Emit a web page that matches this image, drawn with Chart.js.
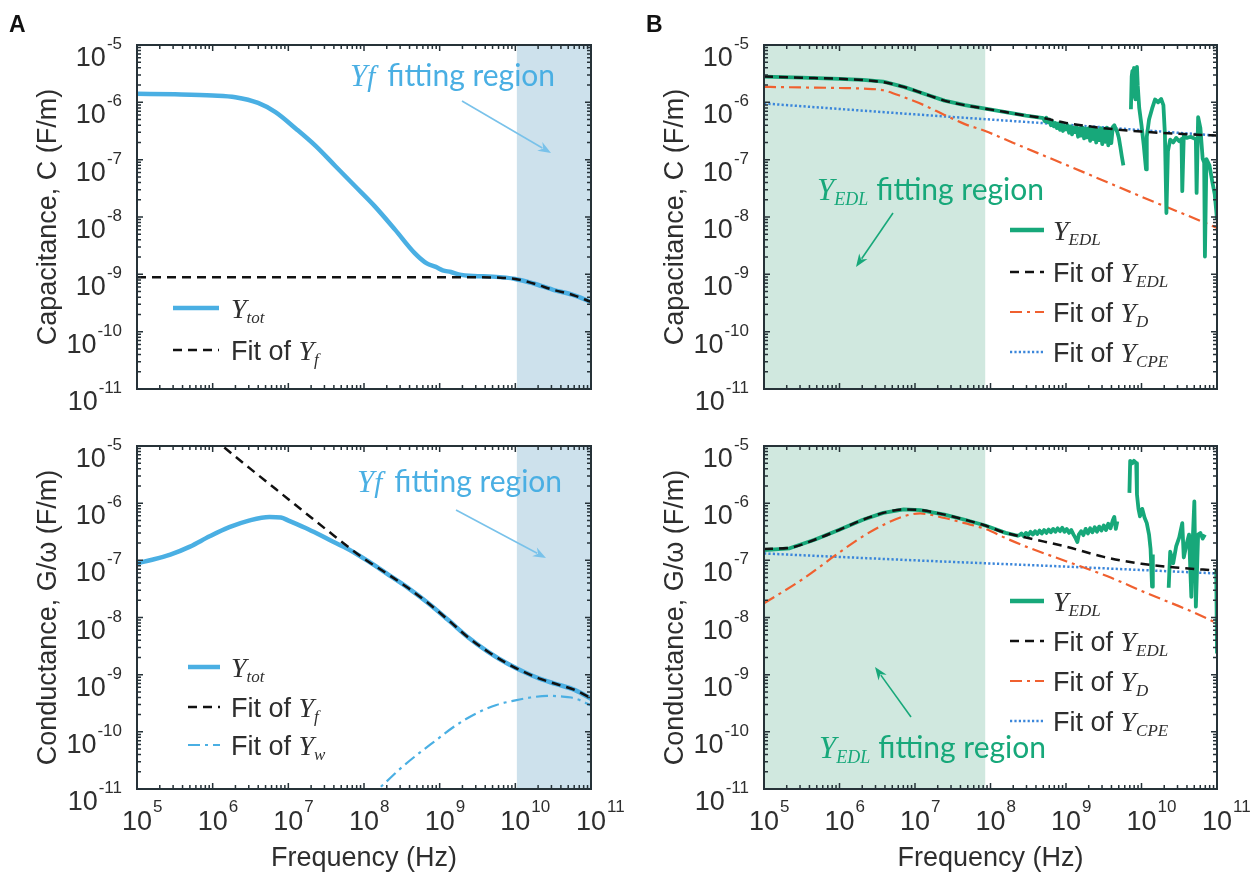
<!DOCTYPE html>
<html><head><meta charset="utf-8">
<script src="https://cdn.jsdelivr.net/npm/chart.js@4.4.1/dist/chart.umd.min.js"></script>
<style>
html,body{margin:0;padding:0;background:#fff;}
#wrap{position:relative;width:1256px;height:879px;overflow:hidden;background:#fff;}
canvas{position:absolute;left:0;top:0;}
</style></head><body>
<div id="wrap">
<canvas id="cA1" width="1256" height="879"></canvas>
<canvas id="cA2" width="1256" height="879"></canvas>
<canvas id="cB1" width="1256" height="879"></canvas>
<canvas id="cB2" width="1256" height="879"></canvas>
</div>
<script>
// ---------- tick exponents ----------
const xTickExponents = [5, 6, 7, 8, 9, 10, 11];
const yTickExponents = [-5, -6, -7, -8, -9, -10, -11];

// ---------- Panel A, capacitance (log10 f, log10 C) ----------
const aCapTotLogF = [5.0,5.5,6.0,6.3,6.6,6.83,7.1,7.36,7.62,7.88,8.14,8.41,8.67,8.83,8.95,9.04,9.15,9.25,9.45,9.7,10.0,10.24,10.5,10.76,11.0];
const aCapTotLogC = [-5.85,-5.86,-5.88,-5.91,-6.01,-6.17,-6.46,-6.76,-7.11,-7.46,-7.81,-8.22,-8.63,-8.81,-8.87,-8.93,-8.96,-9.0,-9.03,-9.04,-9.08,-9.16,-9.27,-9.36,-9.48];
const aCapFitLogF = [5.0,9.5,9.8,10.0,10.24,10.5,10.76,11.0];
const aCapFitLogC = [-9.05,-9.05,-9.06,-9.08,-9.16,-9.27,-9.36,-9.48];

// ---------- Panel A, conductance (log10 f, log10 G/w) ----------
const aCondTotLogF = [5.0,5.2,5.44,5.7,5.96,6.22,6.49,6.75,6.9,7.01,7.27,7.54,7.80,8.06,8.32,8.59,8.85,9.11,9.37,9.64,9.90,10.11,10.32,10.53,10.79,11.0];
const aCondTotLogG = [-7.05,-6.99,-6.90,-6.76,-6.58,-6.42,-6.30,-6.24,-6.25,-6.31,-6.46,-6.64,-6.81,-7.02,-7.25,-7.49,-7.75,-8.04,-8.34,-8.60,-8.81,-8.95,-9.07,-9.16,-9.27,-9.42];
const aCondFitLogF = [6.0,6.5,7.0,7.5,8.0,8.3,8.59,8.85,9.11,9.37,9.64,9.90,10.11,10.32,10.53,10.79,11.0];
const aCondFitLogG = [-4.86,-5.40,-5.93,-6.46,-6.97,-7.23,-7.49,-7.75,-8.04,-8.34,-8.60,-8.81,-8.95,-9.07,-9.16,-9.27,-9.41];
const aCondWLogF = [8.05,8.19,8.5,8.75,8.95,9.2,9.48,9.75,10.0,10.2,10.42,10.6,10.74,10.88,11.0];
const aCondWLogG = [-11.15,-11.0,-10.62,-10.35,-10.15,-9.9,-9.68,-9.53,-9.45,-9.40,-9.37,-9.38,-9.40,-9.46,-9.54];

// ---------- Panel B, capacitance ----------
const bCapEdlLogF = [5.0,5.5,6.0,6.31,6.58,6.85,7.12,7.39,7.66,7.93,8.2,8.47,8.68,
 8.70,8.72,8.74,8.76,8.78,8.80,8.82,8.84,8.86,8.88,8.90,8.92,8.94,8.96,8.98,
 9.00,9.02,9.04,9.06,9.08,9.10,9.12,9.14,9.16,9.18,9.20,9.22,9.24,9.26,9.28,
 9.30,9.32,9.34,9.36,9.38,9.40,9.42,9.44,9.46,9.48,9.50,9.52,9.54,9.56,9.58,
 9.60,9.62,9.64,9.66,9.68,9.70,9.72,9.74,9.76,
 9.80,
 9.86,9.87,9.88,9.89,9.90,9.91,9.92,9.94,9.95,9.97,10.0,10.03,10.06,10.07,10.10,10.14,10.18,10.22,10.26,10.29,
 10.31,10.33,10.35,10.38,10.42,10.46,10.50,10.53,10.54,10.56,10.60,10.65,10.70,10.72,10.73,10.75,10.78,10.81,10.83,10.84,
 10.86,10.90,10.94,10.97,11.0];
const bCapEdlLogC = [-5.55,-5.57,-5.59,-5.61,-5.64,-5.73,-5.85,-5.97,-6.05,-6.11,-6.17,-6.23,-6.27,
 -6.28,-6.33,-6.27,-6.35,-6.30,-6.40,-6.33,-6.42,-6.36,-6.45,-6.37,-6.48,-6.39,-6.50,-6.41,
 -6.47,-6.40,-6.53,-6.42,-6.56,-6.44,-6.52,-6.43,-6.60,-6.45,-6.58,-6.44,-6.63,-6.46,-6.61,
 -6.45,-6.67,-6.47,-6.64,-6.46,-6.70,-6.48,-6.66,-6.45,-6.73,-6.47,-6.69,-6.44,-6.75,-6.47,
 -6.71,-6.43,-6.40,-6.46,-6.52,-6.62,-6.78,-6.95,-7.10,
 null,
 -6.12,-5.55,-5.45,-5.90,-5.40,-5.60,-5.95,-5.38,-5.70,-6.10,-6.40,-6.75,-7.17,-6.60,-6.30,-6.11,-5.95,-6.00,-5.94,-6.05,
 -6.55,-7.93,-6.85,-6.65,-6.70,-6.62,-6.68,-6.64,-7.55,-6.58,-6.62,-6.60,-6.63,-6.64,-7.58,-6.26,-6.45,-6.98,-7.05,-8.69,
 -6.99,-7.10,-7.40,-7.60,-8.04];
const bCapFitLogF = [5.0,5.5,6.0,6.31,6.58,6.85,7.12,7.39,7.66,7.93,8.2,8.47,8.68,9.0,9.5,10.0,10.5,11.0];
const bCapFitLogC = [-5.55,-5.57,-5.59,-5.61,-5.65,-5.73,-5.85,-5.97,-6.05,-6.11,-6.17,-6.23,-6.27,-6.36,-6.45,-6.51,-6.55,-6.58];
const bCapDLogF = [5.0,5.5,6.0,6.31,6.58,6.85,7.12,7.39,7.66,7.93,8.2,8.47,9.0,9.54,10.08,10.62,11.0];
const bCapDLogC = [-5.73,-5.74,-5.75,-5.76,-5.79,-5.91,-6.05,-6.22,-6.38,-6.50,-6.65,-6.80,-7.09,-7.39,-7.69,-7.98,-8.19];
const bCapCpeLogF = [5.0,7.0,9.0,11.0];
const bCapCpeLogC = [-6.02,-6.21,-6.39,-6.58];

// ---------- Panel B, conductance ----------
const bCondEdlLogF = [5.0,5.34,5.67,5.99,6.31,6.58,6.85,7.07,7.39,7.66,7.93,8.2,8.36,
 8.38,8.41,8.44,8.47,8.50,8.53,8.56,8.59,8.62,8.65,8.68,8.71,8.74,8.77,8.80,8.83,8.86,8.89,8.92,8.95,8.98,
 9.01,9.04,9.07,9.10,9.13,9.15,9.17,9.20,9.23,9.26,9.29,9.32,9.35,9.38,9.41,9.44,9.47,9.50,9.53,9.56,9.59,
 9.62,9.64,9.66,9.68,
 9.75,
 9.84,9.85,9.88,9.90,9.93,9.94,9.96,9.98,10.01,10.04,10.07,10.10,10.12,10.14,10.15,
 10.25,
 10.36,10.38,10.42,10.46,10.50,10.54,10.56,10.60,10.63,10.66,10.68,10.70,10.72,10.75,10.78,10.81,10.84,
 10.92,
 10.99,11.0];
const bCondEdlLogG = [-6.82,-6.79,-6.64,-6.47,-6.29,-6.17,-6.11,-6.12,-6.20,-6.29,-6.39,-6.52,-6.57,
 -6.56,-6.53,-6.58,-6.52,-6.56,-6.50,-6.55,-6.49,-6.54,-6.48,-6.53,-6.47,-6.52,-6.46,-6.51,-6.45,-6.50,-6.44,-6.49,-6.43,-6.50,
 -6.45,-6.52,-6.47,-6.55,-6.62,-6.68,-6.55,-6.49,-6.56,-6.45,-6.53,-6.44,-6.51,-6.42,-6.50,-6.41,-6.48,-6.39,-6.47,-6.36,-6.44,
 -6.30,-6.24,-6.45,-6.32,
 null,
 -5.82,-5.26,-5.30,-5.26,-5.30,-5.85,-6.10,-6.23,-6.10,-6.25,-6.35,-6.55,-6.80,-7.46,-6.90,
 null,
 -7.48,-6.85,-7.05,-6.75,-6.60,-6.35,-6.95,-6.70,-6.55,-7.64,-6.60,-5.97,-7.81,-6.55,-6.52,-6.62,-6.55,
 null,
 -7.17,-8.63];
const bCondFitLogF = [5.0,5.34,5.67,5.99,6.31,6.58,6.85,7.07,7.39,7.66,7.93,8.2,8.36,8.6,9.0,9.5,10.0,10.5,11.0];
const bCondFitLogG = [-6.80,-6.78,-6.64,-6.47,-6.29,-6.17,-6.11,-6.12,-6.20,-6.29,-6.39,-6.52,-6.57,-6.64,-6.76,-6.94,-7.06,-7.13,-7.18];
const bCondDLogF = [5.0,5.5,5.99,6.31,6.58,6.85,7.07,7.39,7.66,7.93,8.2,8.47,9.01,9.55,10.08,10.62,11.0];
const bCondDLogG = [-7.75,-7.34,-6.87,-6.58,-6.38,-6.23,-6.18,-6.26,-6.35,-6.45,-6.61,-6.76,-7.02,-7.28,-7.58,-7.87,-8.10];
const bCondCpeLogF = [5.0,7.0,9.0,11.0];
const bCondCpeLogG = [-6.88,-7.00,-7.11,-7.23];

// ---------- styling ----------
const SANS = '"Liberation Sans", Arial, Helvetica, sans-serif';
const SERIF = '"Liberation Serif", "Times New Roman", serif';
const ANNO = 'Lato, "Open Sans", sans-serif';
const AXIS = '#263238';
const TXT = '#2e2e2e';
const C_BLUE = '#4aafe3';
const C_GREEN = '#17a87a';
const C_ORANGE = '#f0602f';
const C_CPE = '#3b86da';
const C_BLACK = '#111111';
const SHADE_A = '#cde1ec';
const SHADE_B = '#d0e8df';
const DASH = [9, 6];
const DASHDOT = [12, 5, 3, 5];
const DOT = [2.2, 2.2];

function toPoints(lf, lv) {
  return lf.map((f, i) => ({ x: Math.pow(10, f), y: lv[i] === null ? null : Math.pow(10, lv[i]) }));
}
function line(lf, lv, color, width, dash, smooth) {
  const d = { data: toPoints(lf, lv), borderColor: color, borderWidth: width, borderDash: dash || [],
    pointRadius: 0, fill: false, tension: 0, spanGaps: false, borderJoinStyle: 'round', borderCapStyle: 'butt' };
  if (smooth) d.cubicInterpolationMode = 'monotone';
  return d;
}

function drawRich(ctx, parts, x, y) {
  for (const p of parts) {
    ctx.font = p.font; ctx.fillStyle = p.color;
    ctx.fillText(p.t, x + (p.dx || 0), y + (p.dy || 0));
    x += ctx.measureText(p.t).width + (p.dx || 0) + (p.after || 0);
  }
  return x;
}

function drawArrow(ctx, x1, y1, x2, y2, color) {
  ctx.save();
  ctx.strokeStyle = color; ctx.fillStyle = color; ctx.lineWidth = 1.6;
  const ang = Math.atan2(y2 - y1, x2 - x1);
  const hl = 13, hw = 5;
  const bx = x2 - hl * Math.cos(ang), by = y2 - hl * Math.sin(ang);
  ctx.beginPath(); ctx.moveTo(x1, y1); ctx.lineTo(bx + 3 * Math.cos(ang), by + 3 * Math.sin(ang)); ctx.stroke();
  ctx.beginPath();
  ctx.moveTo(x2, y2);
  ctx.lineTo(bx - hw * Math.sin(ang), by + hw * Math.cos(ang));
  ctx.lineTo(bx + 4 * Math.cos(ang), by + 4 * Math.sin(ang));
  ctx.lineTo(bx + hw * Math.sin(ang), by - hw * Math.cos(ang));
  ctx.closePath(); ctx.fill();
  ctx.restore();
}

function panelPlugin(p) {
  return {
    id: 'panel' + p.id,
    beforeDatasetsDraw(chart) {
      const { ctx, chartArea: a, scales: { x } } = chart;
      const x0 = x.getPixelForValue(Math.pow(10, p.shade[0]));
      const x1 = x.getPixelForValue(Math.pow(10, p.shade[1]));
      ctx.save(); ctx.fillStyle = p.shadeColor;
      ctx.fillRect(x0, a.top, x1 - x0, a.bottom - a.top);
      ctx.restore();
    },
    afterDatasetsDraw(chart) {
      const { ctx, chartArea: a, scales: { x, y } } = chart;
      ctx.save();
      // frame
      ctx.strokeStyle = AXIS; ctx.lineWidth = 2;
      ctx.strokeRect(a.left, a.top, a.right - a.left, a.bottom - a.top);
      // ticks
      ctx.lineWidth = 1.5;
      ctx.beginPath();
      for (let e = 5; e <= 11; e++) {
        for (let m = 1; m <= 9; m++) {
          if (e === 11 && m > 1) break;
          const px = x.getPixelForValue(m * Math.pow(10, e));
          const L = m === 1 ? 6 : 4;
          ctx.moveTo(px, a.bottom); ctx.lineTo(px, a.bottom - L);
          ctx.moveTo(px, a.top); ctx.lineTo(px, a.top + L);
        }
      }
      for (let e = -11; e <= -5; e++) {
        for (let m = 1; m <= 9; m++) {
          if (e === -5 && m > 1) break;
          const py = y.getPixelForValue(m * Math.pow(10, e));
          const L = m === 1 ? 6 : 4;
          ctx.moveTo(a.left, py); ctx.lineTo(a.left + L, py);
          ctx.moveTo(a.right, py); ctx.lineTo(a.right - L, py);
        }
      }
      ctx.stroke();
      // y tick labels
      ctx.fillStyle = TXT; ctx.textBaseline = 'alphabetic'; ctx.textAlign = 'left';
      for (const e of yTickExponents) {
        const py = y.getPixelForValue(Math.pow(10, e));
        ctx.font = '27px ' + SANS; const wb = ctx.measureText('10').width;
        ctx.font = '17px ' + SANS; const we = ctx.measureText(String(e)).width;
        const sx = a.left - 15 - wb - we - 1;
        ctx.font = '27px ' + SANS; ctx.fillText('10', sx, py + 21);
        ctx.font = '17px ' + SANS; ctx.fillText(String(e), sx + wb + 1, py + 4);
      }
      // x tick labels
      if (p.xLabels) {
        for (const e of xTickExponents) {
          const px = x.getPixelForValue(Math.pow(10, e));
          ctx.font = '27px ' + SANS; const wb = ctx.measureText('10').width;
          ctx.fillText('10', px - wb / 2, a.bottom + 41);
          ctx.font = '17px ' + SANS; ctx.fillText(String(e), px + wb / 2 + 1, a.bottom + 23);
        }
        ctx.font = '27px ' + SANS; ctx.textAlign = 'center';
        ctx.fillText('Frequency (Hz)', (a.left + a.right) / 2, 866);
        ctx.textAlign = 'left';
      }
      // y title
      ctx.save();
      ctx.translate(a.left - 88, (a.top + a.bottom) / 2);
      ctx.rotate(-Math.PI / 2);
      ctx.font = '27px ' + SANS; ctx.textAlign = 'center'; ctx.textBaseline = 'middle';
      ctx.fillText(p.yTitle, 0, 0);
      ctx.restore();
      // panel letter
      if (p.letter) {
        ctx.font = 'bold 23px ' + SANS; ctx.fillStyle = '#111';
        ctx.fillText(p.letter, p.letterX, 32);
      }
      // legend
      for (const it of p.legend) {
        ctx.save();
        ctx.strokeStyle = it.color; ctx.lineWidth = it.width; ctx.setLineDash(it.dash || []);
        ctx.beginPath(); ctx.moveTo(p.legX0, it.y); ctx.lineTo(p.legX1, it.y); ctx.stroke();
        ctx.restore();
        ctx.textAlign = 'left';
        drawRich(ctx, it.parts, p.legTextX, it.y + 10);
      }
      // annotation
      drawRich(ctx, p.anno.parts, p.anno.x, p.anno.y);
      drawArrow(ctx, p.arrow[0], p.arrow[1], p.arrow[2], p.arrow[3], p.arrowColor);
      ctx.restore();
    }
  };
}

const fSans = '27px ' + SANS;
const fY = 'italic 28px ' + SERIF;
const fSub = 'italic 17px ' + SERIF;
function yLabel(sub, color) { return [{ t: 'Y', font: fY, color: color }, { t: sub, font: fSub, color: color, dy: 5 }]; }
function fitLabel(sub) { return [{ t: 'Fit of ', font: fSans, color: TXT }, { t: 'Y', font: fY, color: TXT }, { t: sub, font: fSub, color: TXT, dy: 5 }]; }

function annoYf(x, y) {
  return { x: x, y: y, parts: [
    { t: 'Y', font: 'italic 31px ' + SERIF, color: C_BLUE },
    { t: 'f', font: 'italic 29px ' + SERIF, color: C_BLUE, after: 12 },
    { t: 'fitting region', font: '30px ' + ANNO, color: C_BLUE }] };
}
function annoEdl(x, y) {
  return { x: x, y: y, parts: [
    { t: 'Y', font: 'italic 31px ' + SERIF, color: C_GREEN },
    { t: 'EDL', font: 'italic 18px ' + SERIF, color: C_GREEN, dy: 5, after: 8 },
    { t: 'fitting region', font: '30px ' + ANNO, color: C_GREEN }] };
}

const panels = [
  { id: 'A1', canvas: 'cA1', box: [137, 45, 591, 389], shade: [10.02, 11], shadeColor: SHADE_A, xLabels: false,
    yTitle: 'Capacitance, C (F/m)', letter: 'A', letterX: 9,
    datasets: [
      line(aCapFitLogF, aCapFitLogC, C_BLACK, 2.5, DASH, true),
      line(aCapTotLogF, aCapTotLogC, C_BLUE, 4.5, null, true)],
    legX0: 173, legX1: 219, legTextX: 231,
    legend: [
      { y: 308, color: C_BLUE, width: 4.5, parts: yLabel('tot', TXT) },
      { y: 350, color: C_BLACK, width: 2.5, dash: DASH, parts: fitLabel('f') }],
    anno: annoYf(350, 86), arrow: [462, 101, 551, 153], arrowColor: '#79c2ea' },
  { id: 'A2', canvas: 'cA2', box: [137, 446, 591, 789], shade: [10.02, 11], shadeColor: SHADE_A, xLabels: true,
    yTitle: 'Conductance, G/\u03c9 (F/m)', letter: null,
    datasets: [
      line(aCondFitLogF, aCondFitLogG, C_BLACK, 2.5, DASH, true),
      line(aCondWLogF, aCondWLogG, C_BLUE, 2.2, DASHDOT, true),
      line(aCondTotLogF, aCondTotLogG, C_BLUE, 4.5, null, true)],
    legX0: 188, legX1: 220, legTextX: 231,
    legend: [
      { y: 667, color: C_BLUE, width: 4.5, parts: yLabel('tot', TXT) },
      { y: 707, color: C_BLACK, width: 2.5, dash: DASH, parts: fitLabel('f') },
      { y: 745, color: C_BLUE, width: 2.2, dash: DASHDOT, parts: fitLabel('w') }],
    anno: annoYf(357, 492), arrow: [456, 510, 546, 558], arrowColor: '#79c2ea' },
  { id: 'B1', canvas: 'cB1', box: [764, 45, 1217, 389], shade: [5, 7.93], shadeColor: SHADE_B, xLabels: false,
    yTitle: 'Capacitance, C (F/m)', letter: 'B', letterX: 646,
    datasets: [
      line(bCapFitLogF, bCapFitLogC, C_BLACK, 2.5, DASH, true),
      line(bCapEdlLogF, bCapEdlLogC, C_GREEN, 3.8),
      line(bCapDLogF, bCapDLogC, C_ORANGE, 2.2, DASHDOT, true),
      line(bCapCpeLogF, bCapCpeLogC, C_CPE, 2.5, DOT, true)],
    legX0: 1010, legX1: 1044, legTextX: 1053,
    legend: [
      { y: 230, color: C_GREEN, width: 4.5, parts: yLabel('EDL', TXT) },
      { y: 272, color: C_BLACK, width: 2.5, dash: DASH, parts: fitLabel('EDL') },
      { y: 312, color: C_ORANGE, width: 2.2, dash: DASHDOT, parts: fitLabel('D') },
      { y: 352, color: C_CPE, width: 2.5, dash: DOT, parts: fitLabel('CPE') }],
    anno: annoEdl(817, 200), arrow: [893, 213, 856, 267], arrowColor: C_GREEN },
  { id: 'B2', canvas: 'cB2', box: [764, 446, 1217, 789], shade: [5, 7.93], shadeColor: SHADE_B, xLabels: true,
    yTitle: 'Conductance, G/\u03c9 (F/m)', letter: null,
    datasets: [
      line(bCondFitLogF, bCondFitLogG, C_BLACK, 2.5, DASH, true),
      line(bCondEdlLogF, bCondEdlLogG, C_GREEN, 3.8),
      line(bCondDLogF, bCondDLogG, C_ORANGE, 2.2, DASHDOT, true),
      line(bCondCpeLogF, bCondCpeLogG, C_CPE, 2.5, DOT, true)],
    legX0: 1010, legX1: 1044, legTextX: 1053,
    legend: [
      { y: 601, color: C_GREEN, width: 4.5, parts: yLabel('EDL', TXT) },
      { y: 641, color: C_BLACK, width: 2.5, dash: DASH, parts: fitLabel('EDL') },
      { y: 681, color: C_ORANGE, width: 2.2, dash: DASHDOT, parts: fitLabel('D') },
      { y: 721, color: C_CPE, width: 2.5, dash: DOT, parts: fitLabel('CPE') }],
    anno: annoEdl(819, 758), arrow: [911, 717, 875, 667], arrowColor: C_GREEN }
];

const W = 1256, H = 879;
for (const p of panels) {
  new Chart(document.getElementById(p.canvas), {
    type: 'line',
    data: { datasets: p.datasets },
    options: {
      responsive: false, animation: false, events: [],
      layout: { padding: { left: p.box[0], top: p.box[1], right: W - p.box[2], bottom: H - p.box[3] } },
      scales: {
        x: { type: 'logarithmic', min: 1e5, max: 1e11, display: false },
        y: { type: 'logarithmic', min: 1e-11, max: 1e-5, display: false }
      },
      plugins: { legend: { display: false }, tooltip: { enabled: false } }
    },
    plugins: [panelPlugin(p)]
  });
}
</script>
</body></html>
